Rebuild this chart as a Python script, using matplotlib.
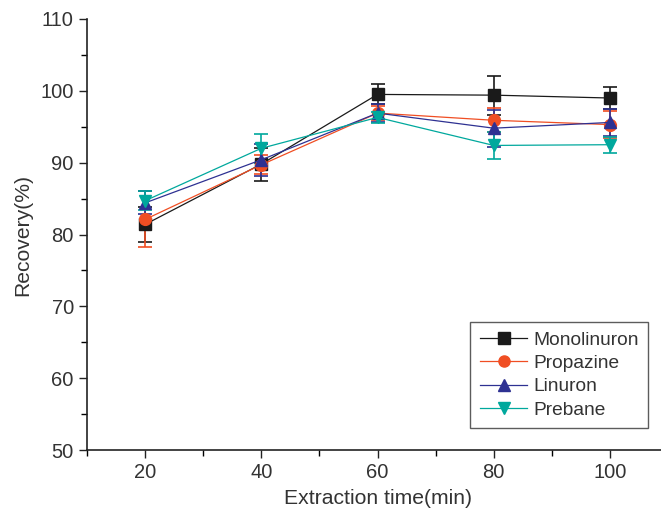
import numpy as np
import matplotlib.pyplot as plt
from matplotlib.ticker import MultipleLocator
from matplotlib.lines import Line2D

plt.rcParams['font.family'] = ['Liberation Sans', 'DejaVu Sans']

times = [20, 40, 60, 80, 100]
names = ['Monolinuron', 'Propazine', 'Linuron', 'Prebane']
mono = [81.4, 89.8, 99.5, 99.4, 99.0]
mono_err = [2.4, 2.3, 1.4, 2.7, 1.5]
prop = [82.1, 89.7, 96.9, 95.9, 95.3]
prop_err = [3.9, 1.3, 1.0, 1.7, 1.9]
linu = [84.4, 90.4, 96.9, 94.8, 95.6]
linu_err = [1.6, 2.2, 1.2, 2.6, 1.9]
preb = [84.7, 92.0, 96.3, 92.4, 92.5]
preb_err = [1.3, 2.0, 0.8, 1.85, 1.1]

colors = ['#1a1a1a', '#f04e23', '#2e3192', '#00a89d']
markers = ['s', 'o', '^', 'v']

fig = plt.figure(figsize=(6.61, 5.11), dpi=100)
ax = fig.add_axes([87/661, 61/511, 581/661, 431/511])

handles = []
for name, y, e, c, m in zip(names, [mono, prop, linu, preb],
                            [mono_err, prop_err, linu_err, preb_err],
                            colors, markers):
    ax.errorbar(times, y, yerr=e, color=c, marker=m, markersize=8.5,
                lw=0.9, elinewidth=1.2, capsize=5, capthick=1.2)
    handles.append(Line2D([], [], color=c, marker=m, markersize=8, lw=0.9, label=name))

ax.set_xlim(10, 110)
ax.set_ylim(50, 110)
ax.xaxis.set_major_locator(MultipleLocator(20))
ax.xaxis.set_minor_locator(MultipleLocator(10))
ax.yaxis.set_major_locator(MultipleLocator(10))
ax.yaxis.set_minor_locator(MultipleLocator(5))
ax.tick_params(which='major', length=6, width=1, labelsize=14.5, colors='#222222')
ax.tick_params(which='minor', length=4, width=1)
for lab in ax.get_xticklabels() + ax.get_yticklabels():
    lab.set_color('#333333')
for side in ['top', 'right']:
    ax.spines[side].set_visible(False)
for side in ['left', 'bottom']:
    ax.spines[side].set_linewidth(1.2)
    ax.spines[side].set_color('#222222')

ax.set_xlabel('Extraction time(min)', fontsize=15.2, color='#333333', labelpad=5)
ax.set_ylabel('Recovery(%)', fontsize=15.2, color='#333333', labelpad=6)

leg = ax.legend(handles=handles, loc='upper left',
                bbox_to_anchor=(470/661, 189/511),
                bbox_transform=fig.transFigure, borderaxespad=0,
                fontsize=13.8, frameon=True, fancybox=False, edgecolor='#333333',
                handlelength=2.5, handletextpad=0.3, borderpad=0.5,
                labelspacing=0.3)
leg.get_frame().set_linewidth(1.0)
for t in leg.get_texts():
    t.set_color('#333333')

fig.savefig('out.png', dpi=100)
